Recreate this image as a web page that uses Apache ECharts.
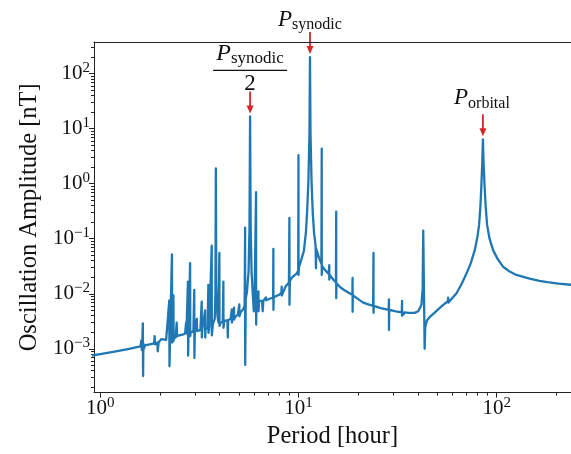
<!DOCTYPE html>
<html>
<head>
<meta charset="utf-8">
<script src="https://cdn.jsdelivr.net/npm/echarts@6/dist/echarts.min.js"></script>
<style>
html,body{margin:0;padding:0;background:#fff;}
#c{width:571px;height:454px;}
</style>
</head>
<body>
<div id="c"></div>
<script>
// ---- data ----
const period = [
0.9,1.0,1.2,1.4,1.55,1.6,1.61,1.62,1.63,1.64,1.645,1.65,1.66,1.68,1.8,1.87,1.88,1.89,1.94,1.95,1.97,2.0,2.03,2.05,2.15,2.2,
2.23,2.235,2.25,2.28,2.30,2.305,2.33,2.34,2.345,2.38,2.40,2.43,2.44,2.5,2.6,2.68,2.71,2.72,2.77,2.775,2.79,2.84,2.845,2.86,
2.95,2.98,2.985,3.0,3.07,3.08,3.2,3.25,3.255,3.27,3.38,3.385,3.40,3.48,3.51,3.515,3.55,3.62,3.65,3.655,3.7,3.78,3.81,3.83,
3.85,3.9,3.95,3.99,3.995,4.05,4.15,4.18,4.185,4.22,4.38,4.40,4.42,4.55,4.61,4.615,4.65,4.73,4.735,4.8,4.95,5.03,5.035,5.1,
5.25,5.35,5.38,5.385,5.42,5.5,5.6,5.66,5.70,5.74,5.8,5.88,5.95,6.0,6.08,6.11,6.115,6.15,6.22,6.28,6.285,6.33,6.55,6.6,6.65,
6.8,6.85,6.87,7.2,7.45,7.47,7.475,7.5,8.0,8.2,8.23,8.235,8.6,8.95,9.0,9.005,9.05,9.3,9.75,9.97,10.0,10.005,10.05,10.3,10.65,
10.9,11.05,11.22,11.36,11.43,11.5,11.64,11.8,12.0,12.2,12.25,12.3,12.7,13.05,13.1,13.105,13.15,13.6,14.2,14.3,14.305,14.4,
15.0,15.45,15.5,15.505,15.55,16.3,17.0,18.0,18.7,18.75,18.755,18.8,20.0,21.2,22.5,23.8,23.9,23.905,24.0,26.0,28.5,28.6,
28.605,28.7,31.0,33.2,33.3,33.305,33.6,33.9,34.1,36.0,38.5,40.2,41.7,42.3,42.6,43.3,43.6,44.5,46.0,48.5,51.0,53.7,56.7,
56.9,57.0,57.2,62.7,66.5,70.3,74.0,77.5,80.0,81.5,82.8,83.7,84.6,85.2,85.8,86.8,87.9,89.4,92.0,95.9,101,107.6,115,125.6,
145,164,165,180,205,240
];
const amplitude = [
7.5e-4,8.0e-4,9.0e-4,1.0e-3,1.08e-3,1.12e-3,1.4e-3,9.5e-4,1.35e-3,2.9e-3,3.2e-4,1.25e-3,1.0e-3,1.15e-3,1.22e-3,1.26e-3,1.7e-3,1.2e-3,1.3e-3,9.0e-4,1.3e-3,1.35e-3,1.5e-3,1.38e-3,1.45e-3,1.5e-3,
7.6e-3,4.8e-4,1.6e-3,1.5e-3,0.052,1.3e-3,1.6e-3,9.3e-3,1.4e-3,1.8e-3,1.6e-3,3.0e-3,1.7e-3,1.75e-3,1.8e-3,1.9e-3,3.0e-3,1.9e-3,0.0166,7.5e-4,2.0e-3,0.036,1.7e-3,2.0e-3,
2.05e-3,0.0117,6.8e-4,2.1e-3,3.5e-3,2.1e-3,2.2e-3,7.2e-3,1.6e-3,2.2e-3,5.0e-3,1.6e-3,2.3e-3,2.4e-3,0.0145,1.95e-3,2.5e-3,2.6e-3,0.075,1.76e-3,2.8e-3,3.5e-3,0.01,1.9,
0.013,4.0e-3,3.0e-3,0.055,2.6e-3,3.0e-3,3.1e-3,0.0166,2.4e-3,3.2e-3,3.3e-3,1.6e-3,3.3e-3,3.5e-3,5.2e-3,3.0e-3,3.6e-3,5.6e-3,3.4e-3,3.8e-3,4.2e-3,6.4e-3,3.9e-3,4.6e-3,
5.2e-3,6.0e-3,0.159,5.1e-4,8.0e-3,0.011,0.025,0.15,16.7,0.15,0.025,0.01,4.8e-3,7.0e-3,7.5e-3,0.70,2.75e-3,7.5e-3,6.8e-3,0.011,4.8e-3,7.5e-3,7.4e-3,4.8e-3,7.5e-3,
7.6e-3,8.6e-3,7.6e-3,8.2e-3,8.5e-3,0.065,5.1e-3,8.7e-3,9.6e-3,0.0105,0.0135,9.3e-3,0.0135,0.016,0.24,6.3e-3,0.017,0.02,0.023,0.026,3.3,0.022,0.03,0.04,0.06,
0.13,0.3,1.1,8,200,8,1.1,0.3,0.12,0.075,0.029,0.065,0.045,0.035,4.35,0.022,0.032,0.027,0.023,0.033,0.018,0.022,
0.018,0.016,0.31,8.3e-3,0.0155,0.013,0.0117,0.0103,9.6e-3,0.0195,4.7e-3,9.4e-3,8.0e-3,6.9e-3,6.4e-3,6.0e-3,0.055,4.5e-3,6.0e-3,5.5e-3,5.1e-3,7.9e-3,
2.2e-3,5.1e-3,4.8e-3,4.6e-3,7.4e-3,4.0e-3,4.6e-3,4.2e-3,4.6e-3,4.5e-3,4.5e-3,4.8e-3,6.3e-3,0.012,0.14,1.0e-3,2.5e-3,3.3e-3,3.8e-3,4.5e-3,5.3e-3,6.3e-3,7.3e-3,
8.5e-3,6.9e-3,7.5e-3,0.0102,0.015,0.023,0.036,0.062,0.11,0.18,0.4,0.95,2.5,6.4,2.5,0.95,0.4,0.18,0.1,0.062,0.043,0.031,0.026,0.022,
0.019,0.0172,0.0168,0.0162,0.0153,0.0145
];
// annotated peaks (periods that appear in the data above)
const peakPeriods = [11.43, 5.70, 85.2];
const peakNames = ['synodic', 'synodic/2', 'orbital'];

// axis ticks
const xMajor = [1, 10, 100];
const xMinor = [2,3,4,5,6,7,8,9,20,30,40,50,60,70,80,90,200];
const yMajor = [1e-3, 1e-2, 1e-1, 1, 10, 100];
const yMinor = [2e-4,3e-4,4e-4,5e-4,6e-4,7e-4,8e-4,9e-4,2e-3,3e-3,4e-3,5e-3,6e-3,7e-3,8e-3,9e-3,
  0.02,0.03,0.04,0.05,0.06,0.07,0.08,0.09,0.2,0.3,0.4,0.5,0.6,0.7,0.8,0.9,2,3,4,5,6,7,8,9,20,30,40,50,60,70,80,90,200,300];
const xRange = [0.93, 237];
const yRange = [1.6e-4, 375];

// ---- chart ----
const FN = '"Liberation Serif"';
const F = '"Liberation Serif", "DejaVu Serif", serif';
const INK = '#111';
const AX = '#222';
const seriesData = period.map((p, i) => [p, amplitude[i]]);

function powLabel(v) {
  const e = Math.round(Math.log10(v));
  const s = String(e).replace('-', '\u2212');
  return '{b|10}{e|' + s + '}';
}
const labelRich = {
  b: { fontFamily: F, fontSize: 21, color: INK },
  e: { fontFamily: F, fontSize: 15, color: INK, padding: [0, 0, 11, 0] }
};

function xAx(extra) {
  return Object.assign({
    type: 'log', logBase: 10, min: xRange[0], max: xRange[1], gridIndex: 0,
    splitLine: { show: false }, minorTick: { show: false }, minorSplitLine: { show: false }
  }, extra);
}
function yAx(extra) {
  return Object.assign({
    type: 'log', logBase: 10, min: yRange[0], max: yRange[1], gridIndex: 0,
    splitLine: { show: false }, minorTick: { show: false }, minorSplitLine: { show: false }
  }, extra);
}

const chart = echarts.init(document.getElementById('c'), null, { renderer: 'canvas' });
const option = {
  animation: false,
  backgroundColor: '#fff',
  grid: { left: 94, top: 42, right: 0, bottom: 57, containLabel: false },
  xAxis: [
    xAx({
      position: 'bottom',
      axisLine: { show: true, onZero: false, lineStyle: { color: AX, width: 1 } },
      axisTick: { show: true, customValues: xMajor, length: 5, lineStyle: { color: AX, width: 1 } },
      axisLabel: { show: true, customValues: xMajor, formatter: powLabel, rich: labelRich, margin: 3 },
      name: 'Period [hour]', nameLocation: 'middle', nameGap: 28,
      nameTextStyle: { fontFamily: F, fontSize: 24.5, color: INK }
    }),
    xAx({
      position: 'bottom',
      axisLine: { show: false },
      axisTick: { show: true, customValues: xMinor, length: 3, lineStyle: { color: AX, width: 1 } },
      axisLabel: { show: false }
    }),
    xAx({
      position: 'top',
      axisLine: { show: true, onZero: false, lineStyle: { color: AX, width: 1 } },
      axisTick: { show: false }, axisLabel: { show: false }
    })
  ],
  yAxis: [
    yAx({
      position: 'left',
      axisLine: { show: true, onZero: false, lineStyle: { color: AX, width: 1 } },
      axisTick: { show: true, customValues: yMajor, length: 5, lineStyle: { color: AX, width: 1 } },
      axisLabel: { show: true, customValues: yMajor, formatter: powLabel, rich: labelRich, margin: 4 },
      name: 'Oscillation Amplitude [nT]', nameLocation: 'middle', nameGap: 52,
      nameTextStyle: { fontFamily: F, fontSize: 24.5, color: INK }
    }),
    yAx({
      position: 'left',
      axisLine: { show: false },
      axisTick: { show: true, customValues: yMinor, length: 3, lineStyle: { color: AX, width: 1 } },
      axisLabel: { show: false }
    })
  ],
  series: [{
    type: 'line', xAxisIndex: 0, yAxisIndex: 0,
    data: seriesData, showSymbol: false, symbol: 'none', sampling: false,
    clip: true, silent: true,
    lineStyle: { color: '#1f77b4', width: 2.3, join: 'round', cap: 'round' }
  }]
};
chart.setOption(option);

// ---- annotations anchored to the peaks through the chart scales ----
const RED = '#d62728';
const graphics = [];
function arrow(x, yStart, yTip) {
  graphics.push({ type: 'line', shape: { x1: x, y1: yStart, x2: x, y2: yTip - 5 },
    style: { stroke: RED, lineWidth: 1.8 }, silent: true });
  graphics.push({ type: 'polygon', shape: { points: [[x - 3.5, yTip - 8], [x + 3.5, yTip - 8], [x, yTip]] },
    style: { fill: RED }, silent: true });
}
function subText(x, y, main, sub, mainSize, subSize) {
  graphics.push({ type: 'text', x: x, y: y, silent: true,
    style: { text: '{p|' + main + '}{s|' + sub + '}', align: 'center', verticalAlign: 'middle',
      rich: {
        p: { font: 'italic ' + mainSize + 'px ' + FN, fontFamily: FN, fontSize: mainSize, fontStyle: 'italic', fill: INK },
        s: { font: subSize + 'px ' + FN, fontFamily: FN, fontSize: subSize, fill: INK, padding: [10, 0, 0, 0] }
      } } });
}
peakPeriods.forEach((p, k) => {
  const i = period.indexOf(p);
  const pt = chart.convertToPixel({ seriesIndex: 0 }, [p, amplitude[i]]);
  const x = pt[0], py = pt[1];
  arrow(x, py - 25, py - 3);
  if (peakNames[k] === 'synodic') {
    subText(x, py - 37, 'P', 'synodic', 23, 16);
  } else if (peakNames[k] === 'orbital') {
    subText(x - 1, py - 41, 'P', 'orbital', 23, 16);
  } else {
    subText(x, py - 63, 'P', 'synodic', 24, 17);
    graphics.push({ type: 'line', shape: { x1: x - 37, y1: py - 46, x2: x + 37, y2: py - 46 },
      style: { stroke: INK, lineWidth: 1.2 }, silent: true });
    graphics.push({ type: 'text', x: x, y: py - 32, silent: true,
      style: { text: '2', font: '23px ' + FN, fontFamily: FN, fontSize: 23, fill: INK, align: 'center', verticalAlign: 'middle' } });
  }
});
chart.setOption({ graphic: graphics });
</script>
</body>
</html>
